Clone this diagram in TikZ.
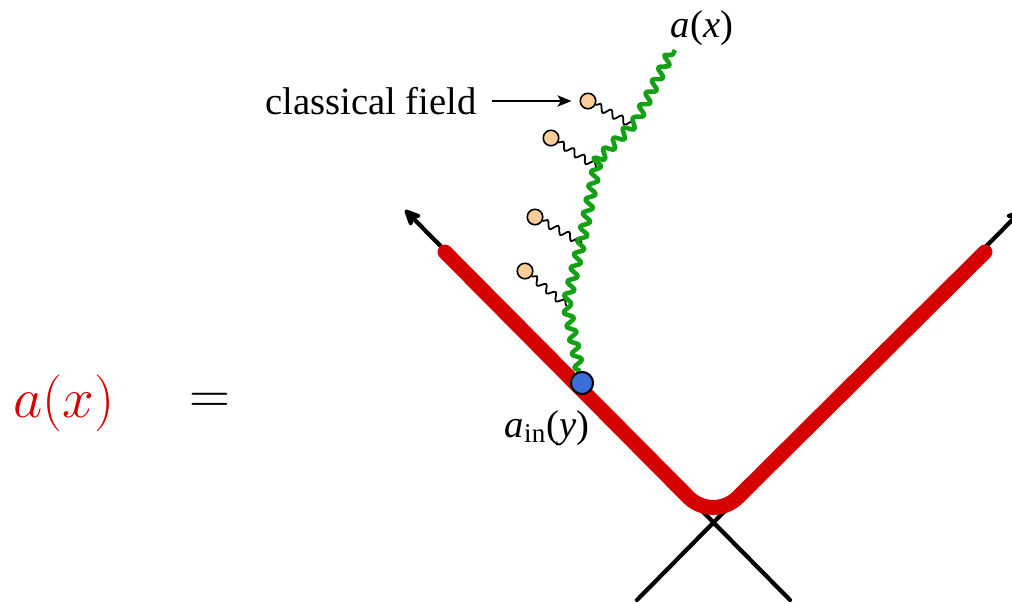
\documentclass[tikz,border=0pt]{standalone}
\usepackage{fontspec}
\setmainfont{Liberation Serif}
\usetikzlibrary{arrows.meta, decorations.pathmorphing, positioning}
\definecolor{fieldred}{RGB}{213,0,0}
\definecolor{gluongreen}{RGB}{20,160,20}
\definecolor{vertexblue}{RGB}{58,111,217}
\definecolor{sourcefill}{RGB}{252,204,153}

\begin{document}
\begin{tikzpicture}[x=0.02cm, y=-0.02cm,
  lbl/.style={font=\fontsize{22}{26}\selectfont, inner sep=0pt},
  big/.style={font=\fontsize{24.88}{30}\selectfont, inner sep=0pt},
  src/.style={circle, draw=black, fill=sourcefill, line width=0.9pt,
    minimum size=0.31cm, inner sep=0pt},
  vtx/.style={circle, draw=black, fill=vertexblue, line width=1.1pt,
    minimum size=0.44cm, inner sep=0pt},
  cone/.style={line width=2.4pt, black, line cap=round,
    -{Stealth[length=12pt, width=11pt, inset=3.5pt, round]}},
  wedge/.style={line width=8.5pt, fieldred, line cap=round, rounded corners=20pt},
  gluon/.style={gluongreen, line width=2.6pt, line join=round, decorate,
    decoration={snake, amplitude=2.6pt, segment length=8pt}},
  photon/.style={black, line width=1pt, decorate,
    decoration={snake, amplitude=2pt, segment length=7pt}},
  pointer/.style={-{Stealth[length=8pt, width=6.5pt, inset=2pt]}, line width=0.8pt,
    shorten <=0.3cm, shorten >=0.16cm}
]
\useasboundingbox (0,0) rectangle (1012,603);

% Light cone
\coordinate (lb) at (790,600);
\coordinate (lt) at (405,210);
\coordinate (rb) at (637,600);
\coordinate (rt) at (1022,210);
\draw[cone] (lb) -- (lt);
\draw[cone] (rb) -- (rt);

% Field on the past cone
\coordinate (wl) at (445,252);
\coordinate (wc) at (713,522);
\coordinate (wr) at (985,252);
\draw[wedge] (wl) -- (wc) -- (wr);

% Junctions on the green line
\coordinate (j1) at (636,127);
\coordinate (j2) at (597,167);
\coordinate (j3) at (582,243);
\coordinate (j4) at (567,306);
\coordinate (aend) at (675,50);

% Classical sources
\node[src] (c1) at (588,101) {};
\node[src] (c2) at (551,138) {};
\node[src] (c3) at (535,217) {};
\node[src] (c4) at (525,271) {};
\foreach \i in {1,...,4}
  \draw[photon] (c\i) -- (j\i);

% Vertex and propagation
\node[vtx] (vin) at (582,383) {};
\draw[gluon] (vin) -- (j4) -- (j3) -- (j2) -- (j1) -- (aend);
\node[vtx] at (vin) {};

% Labels
\node[lbl] (ax) at (702,28) {\textit{a}(\textit{x})};
\node[lbl] (ain) at (547,428) {\textit{a}\textsubscript{in}(\textit{y})};
\node[lbl] (cf) at (371,101) {classical field};
\draw[pointer] (cf) -- (c1);

\node[big, text=fieldred] (lhs) at (64,403) {\scalebox{1.3}{$a(x)$}};
\node[big] (eq) at (210,403) {\scalebox{1.3}{$=$}};

\end{tikzpicture}
\end{document}
